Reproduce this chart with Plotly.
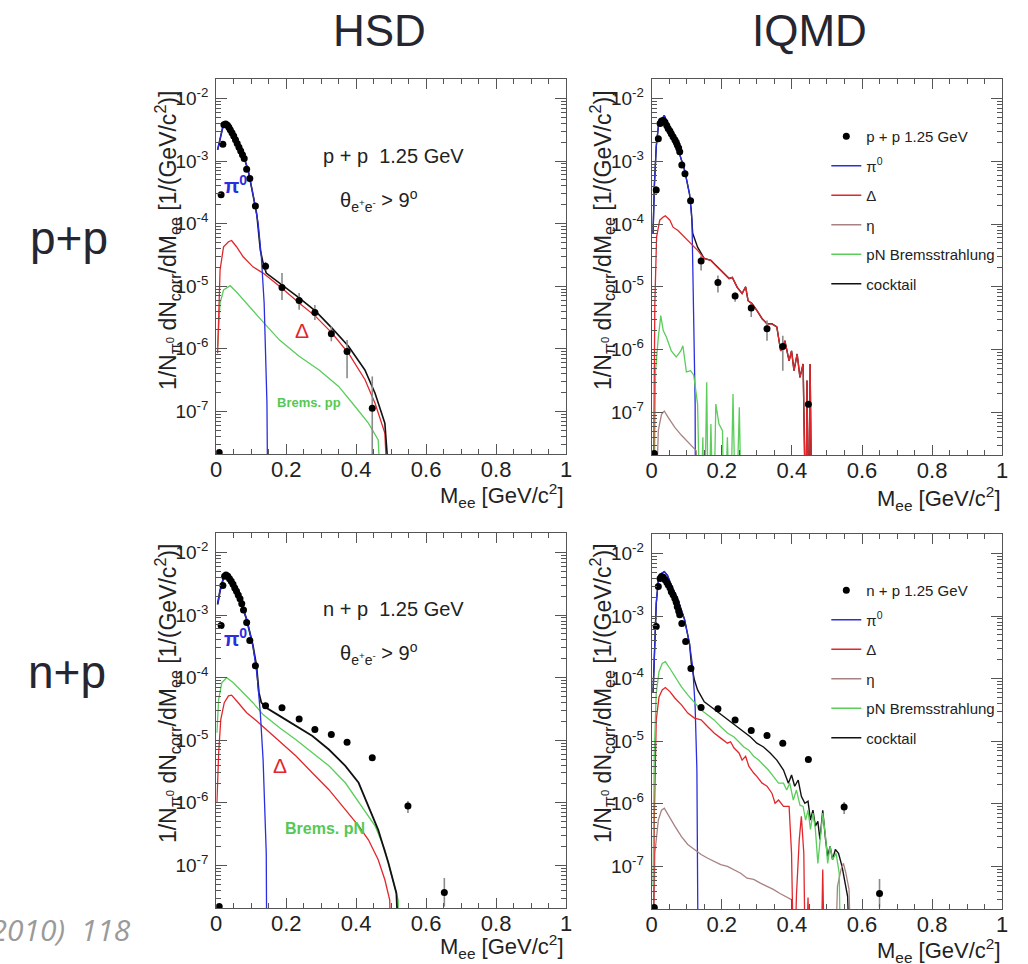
import plotly.graph_objects as go

W, H = 1028, 964
B = 1e-9  # curve has dropped to zero (below the axis floor)

# ---------------- p+p, HSD (top-left) ----------------
tl_pts_x = [0.0085, 0.014, 0.019, 0.022, 0.027, 0.032, 0.036, 0.040, 0.045, 0.050, 0.055, 0.060, 0.065,
            0.070, 0.075, 0.080, 0.087, 0.096, 0.112, 0.141, 0.188, 0.237, 0.282, 0.329, 0.374, 0.446]
tl_pts_y = [2.2e-8, 2.88e-4, 1.86e-3, 3.80e-3, 3.89e-3, 3.72e-3, 3.47e-3, 3.16e-3, 2.82e-3, 2.51e-3, 2.19e-3,
            1.91e-3, 1.66e-3, 1.45e-3, 1.26e-3, 1.10e-3, 7.4e-4, 5.25e-4, 1.91e-4, 2.09e-5, 9.5e-6, 5.9e-6,
            3.8e-6, 1.74e-6, 9.1e-7, 1.12e-7]
tl_pts_up = [0] * 19 + [3.6e-6, 6.7e-6, 1.9e-6, 1.2e-6, 5.6e-7, 4.7e-7, 2.5e-7]
tl_pts_dn = [0] * 19 + [2.9e-6, 3.5e-6, 1.7e-6, 0.9e-6, 4.2e-7, 5.7e-7, 1.11e-7]

tl_pi0_x = [0.004, 0.012, 0.020, 0.025, 0.030, 0.040, 0.050, 0.058, 0.070, 0.077, 0.091, 0.105, 0.120,
            0.129, 0.137, 0.141, 0.145, 0.148]
tl_pi0_y = [1.51e-3, 2.51e-3, 3.72e-3, 3.98e-3, 3.89e-3, 3.31e-3, 2.63e-3, 2.19e-3, 1.51e-3, 1.26e-3,
            7.2e-4, 3.0e-4, 1.0e-4, 2.95e-5, 5.4e-6, 8.5e-7, 1.35e-7, B]

tl_cock_x = [0.004, 0.012, 0.020, 0.025, 0.030, 0.040, 0.050, 0.058, 0.070, 0.077, 0.091, 0.105, 0.116,
             0.126, 0.134, 0.143, 0.188, 0.237, 0.284, 0.331, 0.378, 0.425, 0.454, 0.482, 0.506]
tl_cock_y = [1.51e-3, 2.51e-3, 3.72e-3, 3.98e-3, 3.89e-3, 3.31e-3, 2.63e-3, 2.19e-3, 1.51e-3, 1.26e-3,
             7.2e-4, 3.0e-4, 1.41e-4, 3.8e-5, 2.34e-5, 1.62e-5, 1.05e-5, 6.5e-6, 4.0e-6, 2.14e-6, 1.10e-6,
             4.6e-7, 1.95e-7, 6.5e-8, B]

tl_delta_x = [0.004, 0.0075, 0.011, 0.021, 0.035, 0.044, 0.058, 0.077, 0.105, 0.134, 0.188, 0.237, 0.284,
              0.331, 0.378, 0.425, 0.454, 0.482, 0.496]
tl_delta_y = [8.5e-7, 5.4e-6, 1.82e-5, 4.27e-5, 5.13e-5, 5.37e-5, 4.27e-5, 2.95e-5, 2.04e-5, 1.62e-5,
              9.3e-6, 5.4e-6, 3.3e-6, 1.78e-6, 8.5e-7, 3.24e-7, 1.35e-7, 4.5e-8, B]

tl_brems_x = [0.004, 0.011, 0.021, 0.040, 0.058, 0.087, 0.124, 0.181, 0.237, 0.294, 0.350, 0.397, 0.435,
              0.463, 0.477]
tl_brems_y = [1.10e-6, 5.4e-6, 8.7e-6, 1.02e-5, 8.1e-6, 5.4e-6, 3.1e-6, 1.38e-6, 7.6e-7, 4.6e-7, 2.51e-7,
              1.20e-7, 6.5e-8, 3.5e-8, B]

# ---------------- p+p, IQMD (top-right) ----------------
tr_pts_x = [0.0075, 0.013, 0.019, 0.024, 0.028, 0.033, 0.038, 0.043, 0.047, 0.052, 0.056, 0.061, 0.066,
            0.070, 0.073, 0.077, 0.080, 0.086, 0.095, 0.111, 0.141, 0.189, 0.238, 0.284, 0.329, 0.374, 0.447]
tr_pts_y = [2.2e-8, 3.47e-4, 2.29e-3, 3.98e-3, 4.37e-3, 4.47e-3, 4.17e-3, 3.72e-3, 3.31e-3, 3.02e-3,
            2.75e-3, 2.45e-3, 2.19e-3, 2.0e-3, 1.82e-3, 1.62e-3, 1.41e-3, 8.7e-4, 6.3e-4, 2.34e-4, 2.57e-5,
            1.17e-5, 7.1e-6, 4.6e-6, 2.14e-6, 1.12e-6, 1.35e-7]
tr_pts_up = [0] * 20 + [5.9e-6, 3.4e-6, 1.0e-6, 8e-7, 7.6e-7, 5.4e-7, 1.5e-8]
tr_pts_dn = [0] * 20 + [7.5e-6, 3.6e-6, 1.35e-6, 1.3e-6, 7.6e-7, 6.6e-7, 1.5e-8]

tr_pi0_x = [0.004, 0.0075, 0.013, 0.019, 0.028, 0.036, 0.042, 0.056, 0.075, 0.094, 0.108, 0.115, 0.118,
            0.121, 0.124, 0.125]
tr_pi0_y = [7.1e-5, 3.9e-4, 1.70e-3, 3.55e-3, 4.57e-3, 5.37e-3, 4.47e-3, 2.95e-3, 1.58e-3, 7.2e-4, 3.0e-4,
            1.15e-4, 1.82e-5, 1.58e-6, 1.35e-7, B]

tr_delta_x = [0.004, 0.009, 0.014, 0.023, 0.033, 0.039, 0.052, 0.061, 0.075, 0.094, 0.113, 0.131, 0.150,
              0.169, 0.188, 0.207, 0.221, 0.230, 0.244, 0.258, 0.268, 0.275, 0.286, 0.300, 0.315, 0.329,
              0.343, 0.357, 0.368, 0.380, 0.392, 0.399, 0.406, 0.415, 0.423, 0.432, 0.440, 0.443, 0.448,
              0.452, 0.457]
tr_delta_y = [B, 5.4e-6, 6.2e-5, 1.15e-4, 1.29e-4, 1.35e-4, 1.15e-4, 8.9e-5, 7.9e-5, 6.2e-5, 4.9e-5,
              3.8e-5, 2.82e-5, 2.63e-5, 2.04e-5, 1.62e-5, 1.35e-5, 1.41e-5, 9.8e-6, 7.8e-6, 1.0e-5, 6.0e-6,
              5.4e-6, 4.2e-6, 3.1e-6, 2.57e-6, 2.57e-6, 2.29e-6, 9.5e-7, 1.38e-6, 6.6e-7, 9.5e-7, 4.6e-7,
              8.5e-7, 3.6e-7, 5.9e-7, B, 3.2e-7, B, 5.9e-7, B]

tr_cock_x = [0.004, 0.0075, 0.013, 0.019, 0.028, 0.036, 0.042, 0.056, 0.075, 0.094, 0.108, 0.113, 0.117,
             0.131, 0.150, 0.169, 0.188, 0.207, 0.221, 0.230, 0.244, 0.258, 0.268, 0.275, 0.286, 0.300,
             0.315, 0.329, 0.343, 0.357, 0.368, 0.380, 0.392, 0.399, 0.406, 0.415, 0.423, 0.432, 0.440,
             0.443, 0.448, 0.452, 0.457]
tr_cock_y = [7.1e-5, 3.9e-4, 1.70e-3, 3.55e-3, 4.57e-3, 5.37e-3, 4.47e-3, 2.95e-3, 1.58e-3, 7.2e-4, 3.0e-4,
             1.66e-4, 7.1e-5, 4.27e-5, 2.82e-5, 2.63e-5, 2.04e-5, 1.62e-5, 1.35e-5, 1.41e-5, 9.8e-6, 7.8e-6,
             1.0e-5, 6.0e-6, 5.4e-6, 4.2e-6, 3.1e-6, 2.57e-6, 2.57e-6, 2.29e-6, 9.5e-7, 1.38e-6, 6.6e-7,
             9.5e-7, 4.6e-7, 8.5e-7, 3.6e-7, 5.9e-7, B, 3.2e-7, B, 5.9e-7, B]

tr_eta_x = [0.009, 0.019, 0.028, 0.036, 0.047, 0.066, 0.085, 0.108, 0.127, 0.141]
tr_eta_y = [B, 5.1e-8, 9.3e-8, 1.05e-7, 8.3e-8, 5.75e-8, 4.3e-8, 3.1e-8, 2.45e-8, B]

tr_brems_x = [0.0056, 0.011, 0.019, 0.026, 0.033, 0.042, 0.056, 0.070, 0.083, 0.089, 0.099, 0.111, 0.120,
              0.127, 0.131, 0.139, 0.146, 0.150, 0.157, 0.162, 0.169, 0.176, 0.183, 0.192, 0.202, 0.207,
              0.216, 0.224, 0.232, 0.240, 0.250, 0.257]
tr_brems_y = [B, 4.6e-7, 1.58e-6, 3.47e-6, 2.0e-6, 1.58e-6, 9.5e-7, 7.6e-7, 9.5e-7, 1.15e-6, 4.4e-7,
              4.6e-7, 3.9e-7, 1.95e-7, 1.35e-7, B, 4.0e-8, B, 3.0e-7, B, 6.5e-8, B, 1.35e-7, 6.5e-8, 5.1e-8,
              B, 4.0e-8, B, 1.95e-7, B, 1.2e-7, B]

# ---------------- n+p, HSD (bottom-left) ----------------
bl_pts_x = [0.0085, 0.014, 0.019, 0.024, 0.028, 0.033, 0.038, 0.043, 0.048, 0.053, 0.058, 0.063, 0.068,
            0.073, 0.078, 0.087, 0.096, 0.112, 0.141, 0.188, 0.237, 0.282, 0.329, 0.374, 0.446, 0.548, 0.652]
bl_pts_y = [2.2e-8, 6.8e-4, 2.95e-3, 4.17e-3, 4.37e-3, 4.17e-3, 3.80e-3, 3.47e-3, 3.09e-3, 2.69e-3,
            2.40e-3, 2.09e-3, 1.82e-3, 1.51e-3, 1.20e-3, 7.6e-4, 3.9e-4, 1.55e-4, 3.55e-5, 3.31e-5, 2.19e-5,
            1.48e-5, 1.23e-5, 9.3e-6, 5.25e-6, 8.9e-7, 3.7e-8]
bl_pts_up = [0] * 25 + [1.8e-7, 2.6e-8]
bl_pts_dn = [0] * 25 + [2.0e-7, 1.5e-8]

bl_pi0_x = [0.004, 0.011, 0.021, 0.030, 0.049, 0.068, 0.087, 0.105, 0.117, 0.126, 0.134, 0.138, 0.143, 0.145]
bl_pi0_y = [1.48e-3, 2.45e-3, 3.98e-3, 4.27e-3, 2.95e-3, 1.78e-3, 8.5e-4, 3.24e-4, 1.07e-4, 2.75e-5,
            4.9e-6, 1.0e-6, 1.58e-7, B]

bl_cock_x = [0.004, 0.011, 0.021, 0.030, 0.049, 0.068, 0.087, 0.105, 0.115, 0.122, 0.129, 0.143, 0.181,
             0.228, 0.275, 0.322, 0.369, 0.407, 0.435, 0.463, 0.492, 0.515, 0.527]
bl_cock_y = [1.48e-3, 2.45e-3, 3.98e-3, 4.27e-3, 2.95e-3, 1.78e-3, 8.5e-4, 3.24e-4, 1.55e-4, 5.75e-5,
             3.98e-5, 3.31e-5, 2.45e-5, 1.70e-5, 1.17e-5, 7.1e-6, 3.9e-6, 2.09e-6, 8.9e-7, 3.7e-7, 1.10e-7,
             3.6e-8, B]

bl_brems_x = [0.002, 0.007, 0.016, 0.030, 0.049, 0.077, 0.105, 0.134, 0.181, 0.228, 0.275, 0.322, 0.369,
              0.416, 0.454, 0.482, 0.506, 0.520, 0.524]
bl_brems_y = [1.32e-5, 4.5e-5, 8.3e-5, 1.0e-4, 8.3e-5, 5.75e-5, 3.98e-5, 2.57e-5, 1.58e-5, 1.02e-5, 6.3e-6,
              3.9e-6, 2.09e-6, 8.9e-7, 4.3e-7, 1.78e-7, 5.9e-8, 2.8e-8, B]

bl_delta_x = [0.002, 0.007, 0.013, 0.023, 0.035, 0.044, 0.058, 0.087, 0.115, 0.143, 0.181, 0.228, 0.275,
              0.322, 0.369, 0.407, 0.435, 0.463, 0.482, 0.496, 0.501]
bl_delta_y = [1.0e-6, 6.3e-6, 2.14e-5, 3.98e-5, 5.1e-5, 5.25e-5, 4.27e-5, 2.75e-5, 2.04e-5, 1.48e-5, 9.8e-6,
              5.6e-6, 3.0e-6, 1.62e-6, 7.8e-7, 4.3e-7, 2.57e-7, 1.23e-7, 5.9e-8, 2.8e-8, B]

# ---------------- n+p, IQMD (bottom-right) ----------------
br_pts_x = [0.0075, 0.013, 0.019, 0.024, 0.028, 0.033, 0.038, 0.043, 0.047, 0.052, 0.056, 0.061, 0.066,
            0.070, 0.073, 0.077, 0.080, 0.086, 0.097, 0.112, 0.141, 0.189, 0.238, 0.284, 0.329, 0.374,
            0.447, 0.549, 0.650]
br_pts_y = [2.2e-8, 6.8e-4, 2.95e-3, 3.98e-3, 4.27e-3, 4.17e-3, 3.80e-3, 3.47e-3, 3.16e-3, 2.82e-3,
            2.45e-3, 2.19e-3, 1.91e-3, 1.66e-3, 1.41e-3, 1.20e-3, 1.05e-3, 7.6e-4, 3.9e-4, 1.45e-4, 3.47e-5,
            3.31e-5, 2.19e-5, 1.48e-5, 1.23e-5, 9.3e-6, 5.1e-6, 8.9e-7, 3.7e-8]
br_pts_up = [0] * 27 + [1.8e-7, 2.6e-8]
br_pts_dn = [0] * 27 + [2.0e-7, 1.5e-8]

br_pi0_x = [0.004, 0.0075, 0.013, 0.019, 0.028, 0.036, 0.045, 0.056, 0.075, 0.094, 0.108, 0.117, 0.124,
            0.129, 0.131, 0.133]
br_pi0_y = [5.9e-5, 2.51e-4, 1.58e-3, 3.72e-3, 4.79e-3, 5.13e-3, 4.47e-3, 3.09e-3, 1.82e-3, 8.7e-4, 3.6e-4,
            1.55e-4, 3.55e-5, 3.5e-6, 3.0e-7, B]

br_cock_x = [0.004, 0.0075, 0.013, 0.019, 0.028, 0.036, 0.045, 0.056, 0.075, 0.094, 0.108, 0.113, 0.122,
             0.131, 0.150, 0.169, 0.188, 0.207, 0.225, 0.244, 0.263, 0.282, 0.300, 0.319, 0.338, 0.357,
             0.376, 0.390, 0.399, 0.408, 0.418, 0.427, 0.437, 0.446, 0.453, 0.460, 0.467, 0.474, 0.480,
             0.488, 0.496, 0.502, 0.509, 0.516, 0.524, 0.533, 0.543, 0.550, 0.559, 0.568]
br_cock_y = [5.9e-5, 2.51e-4, 1.58e-3, 3.72e-3, 4.79e-3, 5.13e-3, 4.47e-3, 3.09e-3, 1.82e-3, 8.7e-4,
             3.6e-4, 1.74e-4, 9.5e-5, 6.6e-5, 4.27e-5, 3.55e-5, 2.95e-5, 2.45e-5, 2.04e-5, 1.70e-5, 1.41e-5,
             1.17e-5, 9.3e-6, 8.1e-6, 6.5e-6, 5.0e-6, 3.47e-6, 2.14e-6, 2.88e-6, 1.91e-6, 2.40e-6, 1.32e-6,
             1.02e-6, 1.10e-6, 5.5e-7, 7.9e-7, 4.4e-7, 5.25e-7, 2.69e-7, 7.9e-7, 2.69e-7, 1.45e-7, 2.09e-7,
             1.29e-7, 1.86e-7, 1.62e-7, 1.0e-7, 6.2e-8, 3.3e-8, B]

br_brems_x = [0.004, 0.0075, 0.013, 0.021, 0.030, 0.039, 0.052, 0.066, 0.085, 0.103, 0.122, 0.141, 0.160,
              0.178, 0.197, 0.216, 0.235, 0.249, 0.263, 0.277, 0.291, 0.305, 0.319, 0.333, 0.347, 0.362,
              0.376, 0.385, 0.394, 0.404, 0.413, 0.423, 0.432, 0.439, 0.446, 0.453, 0.460, 0.467, 0.474,
              0.480, 0.488, 0.496, 0.502, 0.509, 0.516, 0.526, 0.535, 0.540]
br_brems_y = [4.8e-8, 6.5e-6, 5.9e-5, 1.29e-4, 1.74e-4, 1.86e-4, 1.45e-4, 1.07e-4, 7.4e-5, 5.5e-5, 4.1e-5,
              3.16e-5, 2.63e-5, 2.19e-5, 1.70e-5, 1.35e-5, 1.17e-5, 9.8e-6, 8.1e-6, 7.2e-6, 5.75e-6, 5.0e-6,
              4.2e-6, 3.47e-6, 2.75e-6, 2.14e-6, 2.14e-6, 1.66e-6, 2.14e-6, 1.15e-6, 1.66e-6, 9.5e-7,
              9.1e-7, 5.5e-7, 7.9e-7, 3.9e-7, 7.1e-7, 3.9e-7, 1.12e-7, 2.69e-7, 7.1e-7, 3.0e-7, 1.12e-7,
              2.09e-7, 1.29e-7, 1.62e-7, 7.8e-8, B]

br_delta_x = [0.004, 0.0075, 0.013, 0.021, 0.030, 0.039, 0.052, 0.066, 0.085, 0.103, 0.122, 0.141, 0.160,
              0.178, 0.197, 0.216, 0.225, 0.235, 0.249, 0.258, 0.268, 0.277, 0.291, 0.300, 0.315, 0.329,
              0.343, 0.352, 0.362, 0.376, 0.392, 0.399, 0.406, 0.413, 0.421, 0.427, 0.434, 0.439, 0.446,
              0.452, 0.482, 0.488, 0.494]
br_delta_y = [B, 5.5e-7, 2.19e-5, 5.1e-5, 6.6e-5, 7.2e-5, 6.2e-5, 4.9e-5, 3.8e-5, 2.82e-5, 2.34e-5,
              2.19e-5, 1.70e-5, 1.35e-5, 1.12e-5, 9.3e-6, 9.8e-6, 7.8e-6, 6.5e-6, 5.0e-6, 5.75e-6, 4.0e-6,
              3.1e-6, 2.75e-6, 2.14e-6, 1.91e-6, 1.48e-6, 1.02e-6, 1.15e-6, 9.1e-7, 9.1e-7, 1.62e-7, B,
              3.5e-8, 2.69e-7, 6.3e-7, 1.62e-7, B, 3.2e-8, B, B, 8.9e-8, B]

br_eta_x = [0.004, 0.009, 0.019, 0.028, 0.036, 0.047, 0.066, 0.085, 0.103, 0.122, 0.141, 0.160, 0.178,
            0.197, 0.216, 0.235, 0.254, 0.272, 0.291, 0.310, 0.329, 0.347, 0.366, 0.385, 0.399, 0.408,
            0.521, 0.530, 0.540, 0.547, 0.554, 0.563, 0.571]
br_eta_y = [B, 1.62e-7, 5.5e-7, 7.9e-7, 8.5e-7, 6.6e-7, 4.4e-7, 3.0e-7, 2.24e-7, 1.86e-7, 1.55e-7, 1.35e-7,
            1.20e-7, 1.07e-7, 1.0e-7, 8.9e-8, 7.8e-8, 6.5e-8, 6.2e-8, 5.4e-8, 4.8e-8, 4.3e-8, 3.7e-8,
            3.3e-8, 2.95e-8, B, B, 4.8e-8, 8.9e-8, 1.12e-7, 7.8e-8, 4.3e-8, B]

# ---------------- labels ----------------
col_titles = ["HSD", "IQMD"]
row_titles = ["p+p", "n+p"]
data_names = ["p + p 1.25 GeV", "n + p 1.25 GeV"]
comp_names = ["π<sup>0</sup>", "Δ", "η", "pN Bremsstrahlung", "cocktail"]
x_ticks = [0, 0.2, 0.4, 0.6, 0.8, 1]
y_ticks = [1e-7, 1e-6, 1e-5, 1e-4, 1e-3, 1e-2]
y_ticktext = ["10<sup>-7</sup>", "10<sup>-6</sup>", "10<sup>-5</sup>", "10<sup>-4</sup>",
              "10<sup>-3</sup>", "10<sup>-2</sup>"]
y_minor = [m * 10.0 ** e for e in range(-8, -1) for m in range(2, 10)]
footer = "Phys. Lett. B 690 (2010)  118"

C_BLUE, C_RED, C_GREEN, C_ETA, C_BLACK = "#2a2ee0", "#e3262b", "#5acd5a", "#a88282", "#111111"
FONT = "Liberation Sans"

fig = go.Figure()

def px_x(p):
    return p / W

def px_y(p):
    return 1 - p / H

# panel frames in pixels: (left, right, top, bottom)
frames = {
    "tl": (212.7, 566.7, 79, 454),
    "tr": (653.3, 1008, 79, 455),
    "bl": (212.7, 566.7, 533, 908),
    "br": (653.3, 1008, 534, 909),
}
axis_ids = {"tl": ("x", "y"), "tr": ("x2", "y2"), "bl": ("x3", "y3"), "br": ("x4", "y4")}

def line(panel, x, y, color, width, name=None, legend=None, rank=None):
    xa, ya = axis_ids[panel]
    fig.add_trace(go.Scatter(
        x=x, y=y, mode="lines", xaxis=xa, yaxis=ya,
        line=dict(color=color, width=width),
        name=name if name else "", showlegend=legend is not None,
        legend=legend if legend else "legend", legendgroup=(panel + str(rank)),
        legendrank=rank if rank else 1000, hoverinfo="skip"))

def points(panel, x, y, up, dn, name=None, legend=None):
    xa, ya = axis_ids[panel]
    fig.add_trace(go.Scatter(
        x=x, y=y, mode="markers", xaxis=xa, yaxis=ya,
        marker=dict(color="black", size=7, symbol="circle"),
        error_y=dict(type="data", array=up, arrayminus=dn, color="#8a8a8a", thickness=1.6, width=0),
        name=name if name else "", showlegend=legend is not None,
        legend=legend if legend else "legend", legendgroup=panel + "0",
        legendrank=1, hoverinfo="skip"))

# top-left (HSD p+p)
line("tl", tl_brems_x, tl_brems_y, C_GREEN, 1.3)
line("tl", tl_delta_x, tl_delta_y, C_RED, 1.3)
line("tl", tl_cock_x, tl_cock_y, C_BLACK, 1.6)
line("tl", tl_pi0_x, tl_pi0_y, C_BLUE, 1.3)
points("tl", tl_pts_x, tl_pts_y, tl_pts_up, tl_pts_dn)

# top-right (IQMD p+p)
line("tr", tr_cock_x, tr_cock_y, C_BLACK, 1.4, comp_names[4], "legend", 6)
line("tr", tr_pi0_x, tr_pi0_y, C_BLUE, 1.3, comp_names[0], "legend", 2)
line("tr", tr_eta_x, tr_eta_y, C_ETA, 1.3, comp_names[2], "legend", 4)
line("tr", tr_brems_x, tr_brems_y, C_GREEN, 1.3, comp_names[3], "legend", 5)
line("tr", tr_delta_x, tr_delta_y, C_RED, 1.3, comp_names[1], "legend", 3)
points("tr", tr_pts_x, tr_pts_y, tr_pts_up, tr_pts_dn, data_names[0], "legend")

# bottom-left (HSD n+p)
line("bl", bl_delta_x, bl_delta_y, C_RED, 1.3)
line("bl", bl_brems_x, bl_brems_y, C_GREEN, 1.3)
line("bl", bl_cock_x, bl_cock_y, C_BLACK, 1.8)
line("bl", bl_pi0_x, bl_pi0_y, C_BLUE, 1.3)
points("bl", bl_pts_x, bl_pts_y, bl_pts_up, bl_pts_dn)

# bottom-right (IQMD n+p)
line("br", br_cock_x, br_cock_y, C_BLACK, 1.4, comp_names[4], "legend2", 6)
line("br", br_pi0_x, br_pi0_y, C_BLUE, 1.3, comp_names[0], "legend2", 2)
line("br", br_eta_x, br_eta_y, C_ETA, 1.3, comp_names[2], "legend2", 4)
line("br", br_delta_x, br_delta_y, C_RED, 1.3, comp_names[1], "legend2", 3)
line("br", br_brems_x, br_brems_y, C_GREEN, 1.3, comp_names[3], "legend2", 5)
points("br", br_pts_x, br_pts_y, br_pts_up, br_pts_dn, data_names[1], "legend2")

layout = dict(
    width=W, height=H, margin=dict(l=0, r=0, t=0, b=0),
    paper_bgcolor="white", plot_bgcolor="white",
    font=dict(family=FONT, color="#222222"),
    showlegend=True,
)

for key, (l, r, t, b) in frames.items():
    xa, ya = axis_ids[key]
    xname = "xaxis" if xa == "x" else "xaxis" + xa[1:]
    yname = "yaxis" if ya == "y" else "yaxis" + ya[1:]
    layout[xname] = dict(
        domain=[px_x(l), px_x(r)], anchor=ya, range=[0, 1],
        tickvals=x_ticks, ticks="inside", ticklen=10, tickcolor="#555",
        minor=dict(dtick=0.05, tick0=0, ticks="inside", ticklen=5, tickcolor="#555"),
        showline=True, linecolor="#555", linewidth=1, mirror="ticks",
        showgrid=False, zeroline=False,
        tickfont=dict(size=22, color="#222"), ticklabelstandoff=-4,
    )
    layout[yname] = dict(
        domain=[px_y(b), px_y(t)], anchor=xa, type="log", range=[-7.68, -1.69],
        tickvals=y_ticks, ticktext=y_ticktext, ticks="inside", ticklen=11, tickcolor="#555",
        minor=dict(tickmode="array", tickvals=y_minor, ticks="inside", ticklen=5, tickcolor="#555"),
        showline=True, linecolor="#555", linewidth=1, mirror="ticks",
        showgrid=False, zeroline=False,
        tickfont=dict(size=19, color="#222"), ticklabelstandoff=3,
    )

leg_common = dict(
    bgcolor="rgba(0,0,0,0)", borderwidth=0, font=dict(size=15, color="#222"),
    tracegroupgap=7, traceorder="grouped", xanchor="left", yanchor="top",
)
layout["legend"] = dict(leg_common, x=px_x(830), y=px_y(120))
layout["legend2"] = dict(leg_common, x=px_x(830), y=px_y(574))

ann = []

def text(px, py, s, size, color="#222222", bold=False, angle=0, xanchor="center", italic=False,
         family=FONT):
    st = s
    if bold:
        st = "<b>" + st + "</b>"
    if italic:
        st = "<i>" + st + "</i>"
    ann.append(dict(x=px_x(px), y=px_y(py), xref="paper", yref="paper", text=st, showarrow=False,
                    font=dict(size=size, color=color, family=family), textangle=angle,
                    xanchor=xanchor, yanchor="middle"))

# column / row titles
text(378, 30, col_titles[0], 44, "#262630")
text(813, 30, col_titles[1], 44, "#262630")
text(64, 238, row_titles[0], 46, "#262630")
text(62, 672, row_titles[1], 46, "#262630")

ytitle = "1/N<sub>π<sup>0</sup></sub> dN<sub>corr</sub>/dM<sub>ee</sub> [1/(GeV/c<sup>2</sup>)]"
xtitle = "M<sub>ee</sub> [GeV/c<sup>2</sup>]"
text(163, 240, ytitle, 23, angle=-90)
text(603, 240, ytitle, 23, angle=-90)
text(163, 693, ytitle, 23, angle=-90)
text(603, 693, ytitle, 23, angle=-90)
text(567, 496, xtitle, 22, xanchor="right")
text(1009, 498, xtitle, 22, xanchor="right")
text(567, 946, xtitle, 22, xanchor="right")
text(1009, 950, xtitle, 22, xanchor="right")

# in-panel labels (HSD)
text(392, 156, "p + p  1.25 GeV", 20)
text(377, 200, "θ<sub>e<sup>+</sup>e<sup>-</sup></sub> > 9<sup>o</sup>", 20)
text(232, 184, "π<sup>0</sup>", 20, C_BLUE, bold=True)
text(300, 330, "Δ", 21, C_RED)
text(307, 402, "Brems. pp", 13, "#55c855", bold=True)

text(392, 609, "n + p  1.25 GeV", 20)
text(377, 653, "θ<sub>e<sup>+</sup>e<sup>-</sup></sub> > 9<sup>o</sup>", 20)
text(232, 637, "π<sup>0</sup>", 20, C_BLUE, bold=True)
text(277, 765, "Δ", 21, C_RED)
text(323, 828, "Brems. pN", 16, "#55c855", bold=True)

text(129, 929, footer, 30, "#9a9a9a", italic=True, xanchor="right", family="Open Sans")

layout["annotations"] = ann
fig.update_layout(**layout)
fig.write_html("out.html")
